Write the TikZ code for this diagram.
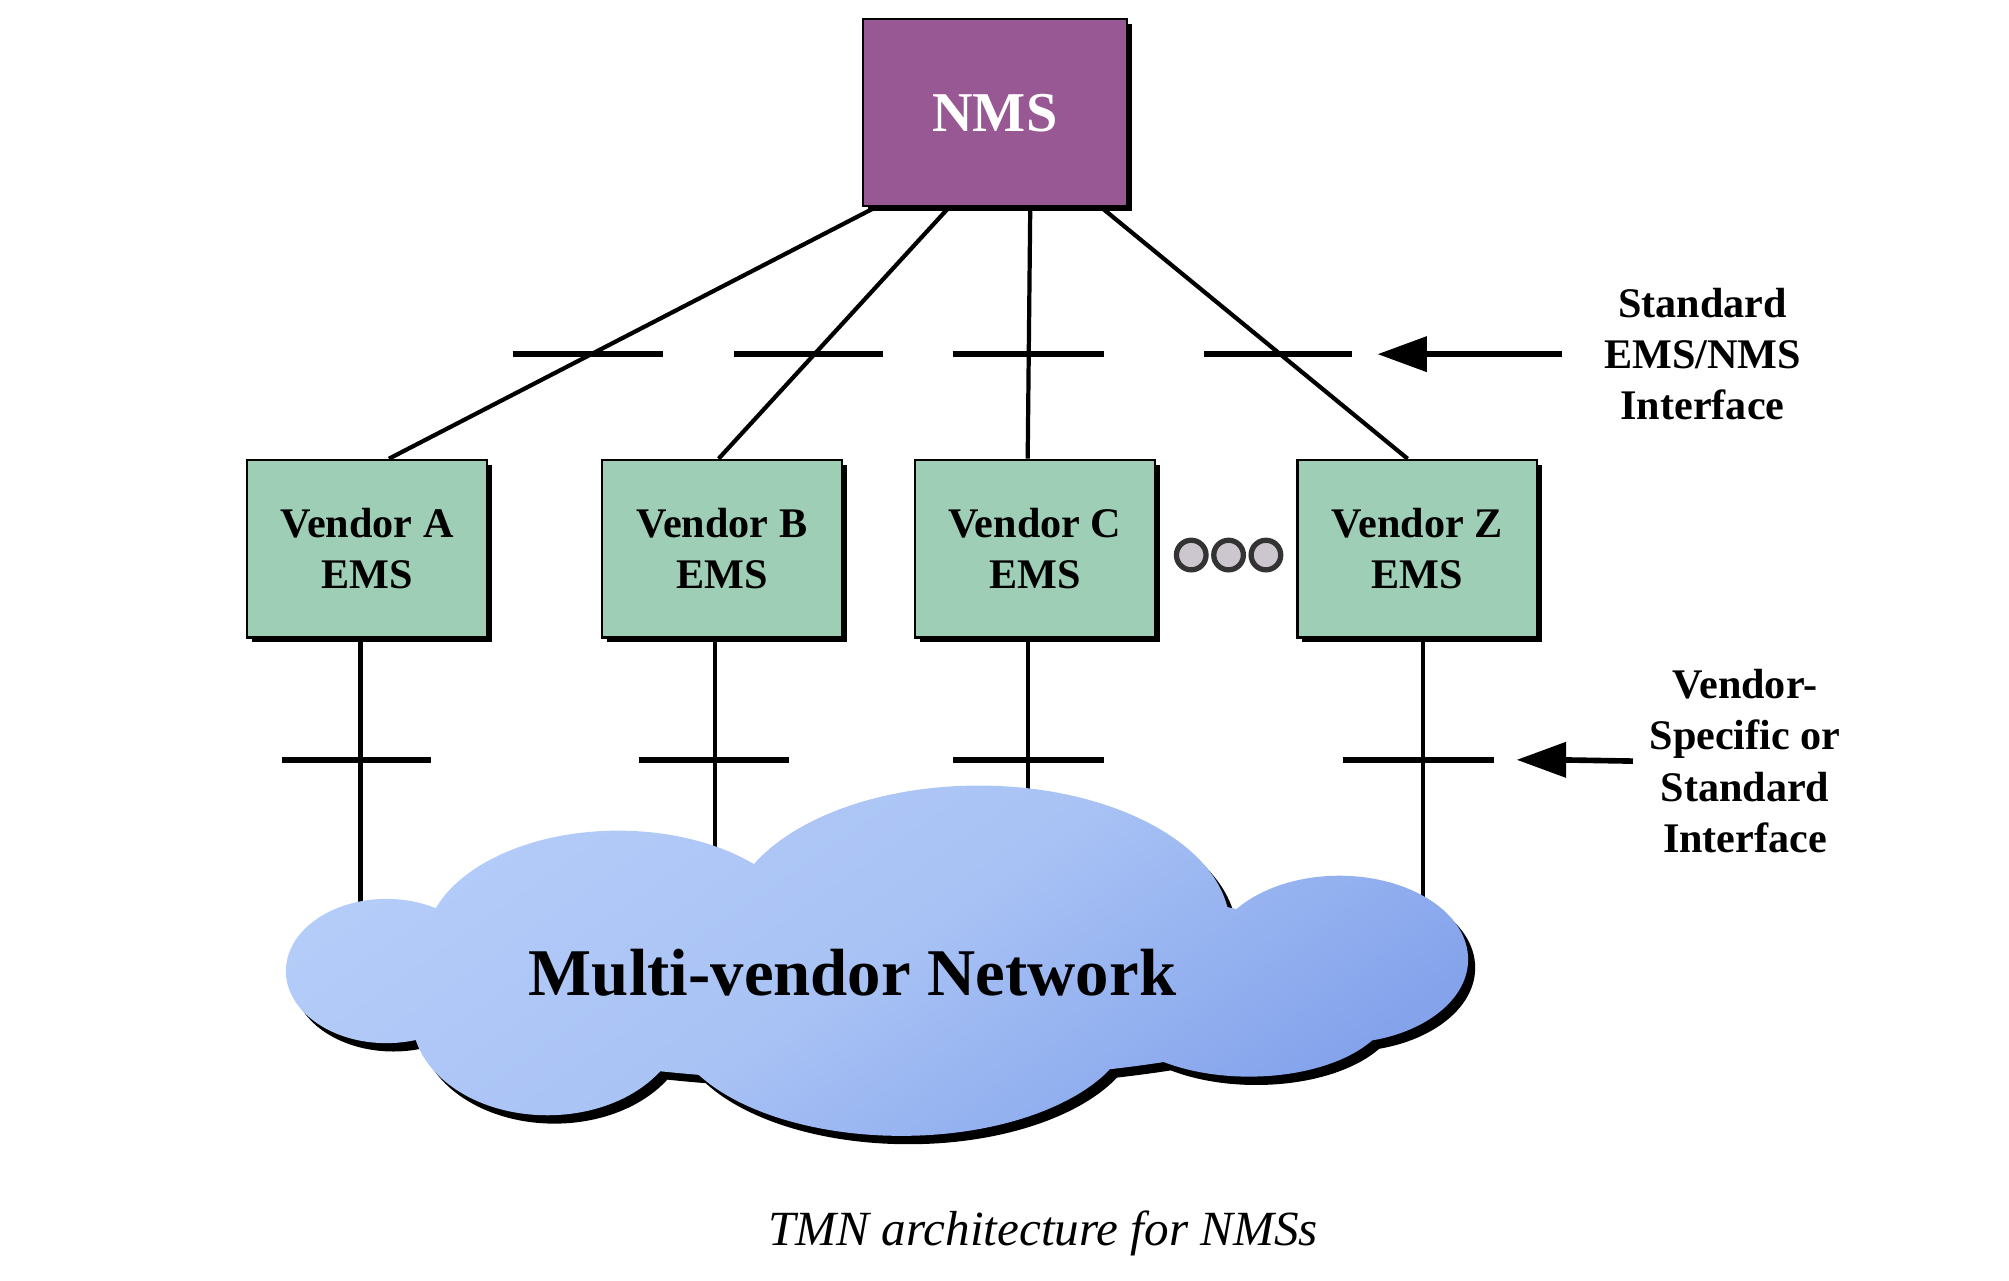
\documentclass[tikz,border=0pt]{standalone}
\usepackage{fontspec}
\setmainfont{Liberation Serif}
\usepackage{tikz}
\usetikzlibrary{arrows, arrows.meta}
\usetikzlibrary{shadows}
\definecolor{nmspurple}{RGB}{152,88,148}
\definecolor{emsgreen}{RGB}{158,206,182}
\definecolor{cloudhi}{RGB}{180,204,248}
\definecolor{cloudmid}{RGB}{168,194,245}
\definecolor{cloudlo}{RGB}{132,163,235}
\definecolor{dotgrey}{RGB}{204,198,206}
\newcommand{\netcloud}{(30,-75.4) ellipse (7.8 and 5.6) (48,-73.5) ellipse (15 and 9) (76,-72) ellipse (19.5 and 11) (104,-74.5) ellipse (10 and 6.5) (97,-78) ellipse (11 and 5.6) (70,-79) ellipse (18 and 9.2) (42.5,-79) ellipse (10.5 and 7.6) (68,-76) ellipse (38 and 8)}

\begin{document}
\begin{tikzpicture}[scale=0.1288]
\tikzstyle{every node}+=[inner sep=0pt]
\tikzstyle{emsbox}=[draw=black, line width=0.6pt, fill=emsgreen, minimum width=2.396cm, minimum height=1.777cm, align=center, font=\fontsize{12}{14.6}\selectfont\bfseries, drop shadow={fill=black, opacity=1, shadow xshift=0.05cm, shadow yshift=-0.05cm}]
\tikzstyle{nmsbox}=[draw=black, line width=0.6pt, fill=nmspurple, minimum width=2.64cm, minimum height=1.87cm, text=white, font=\fontsize{16}{19}\selectfont\bfseries, drop shadow={fill=black, opacity=1, shadow xshift=0.05cm, shadow yshift=-0.05cm}]
\tikzstyle{link}=[black, line width=1.2pt]
\tikzstyle{tick}=[black, line width=1.6pt]
\tikzstyle{note}=[align=center, font=\fontsize{12}{14.6}\selectfont\bfseries]
\useasboundingbox (0,0) rectangle (156,-99.4);
\node [nmsbox] (nms) at (77.25,-8.75) {NMS};
\node [emsbox] (emsA) at (28.5,-42.6) {Vendor A\\EMS};
\node [emsbox] (emsB) at (56.05,-42.6) {Vendor B\\EMS};
\node [emsbox] (emsC) at (80.35,-42.6) {Vendor C\\EMS};
\node [emsbox] (emsZ) at (110.05,-42.6) {Vendor Z\\EMS};
\draw [link] (nms.south -| 68.0,0) -- (emsA.north -| 30.2,0);
\draw [link] (nms.south -| 73.7,0) -- (emsB.north -| 55.8,0);
\draw [link] (nms.south -| 80.0,0) -- (emsC.north -| 79.8,0);
\draw [link] (nms.south -| 85.5,0) -- (emsZ.north -| 109.3,0);
\draw [tick] (39.8,-27.5) -- (51.5,-27.5);
\draw [tick] (57.0,-27.5) -- (68.6,-27.5);
\draw [tick] (74.0,-27.5) -- (85.7,-27.5);
\draw [tick] (93.5,-27.5) -- (105.0,-27.5);
\draw [black!80, line width=1.5pt, fill=dotgrey] (92.5,-43.1) circle (1.15);
\draw [black!80, line width=1.5pt, fill=dotgrey] (95.4,-43.1) circle (1.15);
\draw [black!80, line width=1.5pt, fill=dotgrey] (98.3,-43.1) circle (1.15);
\coordinate (netA) at (28.0,-74);
\coordinate (netB) at (55.5,-68);
\coordinate (netC) at (79.8,-65);
\coordinate (netZ) at (110.5,-74);
\draw [link] (emsA.south -| netA) -- (netA);
\draw [link] (emsB.south -| netB) -- (netB);
\draw [link] (emsC.south -| netC) -- (netC);
\draw [link] (emsZ.south -| netZ) -- (netZ);
\draw [tick] (21.9,-59.0) -- (33.5,-59.0);
\draw [tick] (49.6,-59.0) -- (61.3,-59.0);
\draw [tick] (74.0,-59.0) -- (85.7,-59.0);
\draw [tick] (104.3,-59.0) -- (116.0,-59.0);
\fill [black, shift={(0.55,-0.65)}] \netcloud;
\shade [top color=cloudhi, bottom color=cloudlo, middle color=cloudmid, shading angle=35] \netcloud;
\node (net) at (66.2,-75.5) [font=\fontsize{19}{23}\selectfont\bfseries] {Multi-vendor Network};
\node [note] (stdlbl) at (132.2,-27.5) {Standard\\EMS/NMS\\Interface};
\coordinate (stdtip) at (107.0,-27.5);
\draw [tick] (stdlbl.west -| 121.3,0) -- (stdtip -| 110.2,0);
\fill [black] (stdtip) -- ++(3.8,1.4) -- ++(0,-2.8) -- cycle;
\node [note] (vndlbl) at (135.5,-59.1) {Vendor-\\Specific or\\Standard\\Interface};
\coordinate (vndtip) at (117.8,-59.0);
\draw [tick] (vndlbl.west -| 126.8,0) -- (vndtip -| 121.0,0);
\fill [black] (vndtip) -- ++(3.8,1.4) -- ++(0,-2.8) -- cycle;
\node (cap) at (81.0,-95.8) [font=\fontsize{14}{17}\selectfont\itshape] {TMN architecture for NMSs};
\end{tikzpicture}
\end{document}
